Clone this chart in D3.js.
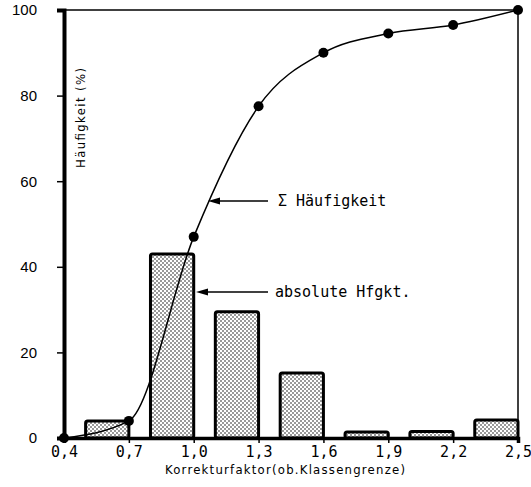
<!DOCTYPE html>
<html>
<head>
<meta charset="utf-8">
<script src="https://cdn.jsdelivr.net/npm/d3@7"></script>
<style>
  body { margin: 0; background: #fff; }
</style>
</head>
<body>
<script>
var width = 531,
    height = 487;

// absolute frequency per class (lower / upper class limit)
var classLower = [0.5, 0.8, 1.1, 1.4, 1.7, 2.0, 2.3];
var classUpper = [0.7, 1.0, 1.3, 1.6, 1.9, 2.2, 2.5];
var absValues = [4, 43, 29.5, 15.2, 1.4, 1.5, 4.2];

// cumulative frequency at the upper class limits
var cumX = [0.4, 0.7, 1.0, 1.3, 1.6, 1.9, 2.2, 2.5];
var cumValues = [0, 4, 47, 77.5, 90, 94.5, 96.5, 100];

var xTicks = [0.4, 0.7, 1.0, 1.3, 1.6, 1.9, 2.2, 2.5];
var yTicks = [0, 20, 40, 60, 80, 100];

var x = d3.scaleLinear().domain([0.4, 2.5]).range([64, 518]);
var y = d3.scaleLinear().domain([0, 100]).range([438, 10]);

var svg = d3.select("body")
            .append("svg")
            .attr("width", width)
            .attr("height", height);

var defs = svg.append("defs");
var pat = defs.append("pattern")
    .attr("id", "dots")
    .attr("patternUnits", "userSpaceOnUse")
    .attr("width", 4)
    .attr("height", 4);
pat.append("rect").attr("width", 4).attr("height", 4).attr("fill", "#fff");
pat.append("circle").attr("cx", 1).attr("cy", 1).attr("r", 0.75).attr("fill", "#000");
pat.append("circle").attr("cx", 3).attr("cy", 3).attr("r", 0.75).attr("fill", "#000");

// frame: thin top and right lines
svg.append("line")
   .attr("x1", x(0.4)).attr("x2", x(2.5))
   .attr("y1", y(100)).attr("y2", y(100))
   .attr("stroke", "#000").attr("stroke-width", 1.5);
svg.append("line")
   .attr("x1", x(2.5)).attr("x2", x(2.5))
   .attr("y1", y(100)).attr("y2", y(0))
   .attr("stroke", "#000").attr("stroke-width", 1.5);

// bars
svg.selectAll("rect.bar")
   .data(absValues)
   .enter()
   .append("rect")
   .attr("class", "bar")
   .attr("x", function(d, i) { return x(classLower[i]); })
   .attr("y", function(d) { return y(d); })
   .attr("width", function(d, i) { return x(classUpper[i]) - x(classLower[i]); })
   .attr("height", function(d) { return y(0) - y(d); })
   .attr("rx", 2)
   .attr("fill", "url(#dots)")
   .attr("stroke", "#000")
   .attr("stroke-width", 3);

// axes
var yAxis = d3.axisLeft(y).tickValues(yTicks).tickSize(7).tickPadding(20);
var gy = svg.append("g")
   .attr("transform", "translate(" + x(0.4) + ",0)")
   .call(yAxis);
gy.select(".domain").attr("stroke-width", 4);
gy.selectAll(".tick line").attr("stroke-width", 1.5);
gy.selectAll("text")
  .attr("font-family", "Liberation Sans, Arial, sans-serif")
  .attr("font-size", "15px")
  .attr("fill", "#000");

var xAxis = d3.axisBottom(x).tickValues(xTicks).tickSize(5).tickPadding(3)
   .tickFormat(function(d) { return d3.format(".1f")(d).replace(".", ","); });
var gx = svg.append("g")
   .attr("transform", "translate(0," + y(0) + ")")
   .call(xAxis);
gx.select(".domain").attr("stroke-width", 3.5);
gx.selectAll(".tick line").attr("stroke-width", 1.5);
gx.selectAll("text")
  .attr("font-family", "DejaVu Sans Mono, monospace")
  .attr("font-size", "15px")
  .attr("fill", "#000");

// cumulative curve
var line = d3.line()
   .x(function(d, i) { return x(cumX[i]); })
   .y(function(d) { return y(d); })
   .curve(d3.curveMonotoneX);

svg.append("path")
   .datum(cumValues)
   .attr("d", line)
   .attr("fill", "none")
   .attr("stroke", "#000")
   .attr("stroke-width", 1.5);

svg.selectAll("circle.pt")
   .data(cumValues)
   .enter()
   .append("circle")
   .attr("class", "pt")
   .attr("cx", function(d, i) { return x(cumX[i]); })
   .attr("cy", function(d) { return y(d); })
   .attr("r", 5)
   .attr("fill", "#000");

// annotations with left-pointing arrows
var notes = [
  { label: "\u03a3 H\u00e4ufigkeit", x1: 268, x2: 208, ly: 201, tx: 278 },
  { label: "absolute Hfgkt.", x1: 268, x2: 196, ly: 292, tx: 275 }
];

svg.selectAll("line.note")
   .data(notes)
   .enter()
   .append("line")
   .attr("x1", function(d) { return d.x1; })
   .attr("x2", function(d) { return d.x2 + 8; })
   .attr("y1", function(d) { return d.ly; })
   .attr("y2", function(d) { return d.ly; })
   .attr("stroke", "#000")
   .attr("stroke-width", 1.3);

svg.selectAll("path.head")
   .data(notes)
   .enter()
   .append("path")
   .attr("d", function(d) {
        return "M" + d.x2 + "," + d.ly + "L" + (d.x2 + 12) + "," + (d.ly - 3.5) +
               "L" + (d.x2 + 12) + "," + (d.ly + 3.5) + "Z";
   })
   .attr("fill", "#000");

svg.selectAll("text.note")
   .data(notes)
   .enter()
   .append("text")
   .attr("x", function(d) { return d.tx; })
   .attr("y", function(d) { return d.ly + 5; })
   .attr("font-family", "DejaVu Sans Mono, monospace")
   .attr("font-size", "15px")
   .text(function(d) { return d.label; });

// axis titles
svg.append("text")
   .attr("x", 285)
   .attr("y", 474)
   .attr("text-anchor", "middle")
   .attr("font-family", "DejaVu Sans Condensed, sans-serif")
   .attr("font-size", "13px")
   .attr("textLength", 240)
   .text("Korrekturfaktor(ob.Klassengrenze)");

svg.append("text")
   .attr("transform", "translate(85,118) rotate(-90)")
   .attr("text-anchor", "middle")
   .attr("font-family", "DejaVu Sans Condensed, sans-serif")
   .attr("font-size", "13px")
   .attr("textLength", 100)
   .text("H\u00e4ufigkeit (%)");
</script>
</body>
</html>
